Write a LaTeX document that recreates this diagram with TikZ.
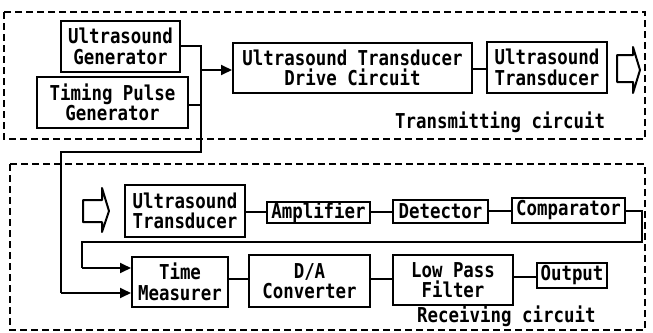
\documentclass[tikz,border=0pt]{standalone}
\usepackage{fontspec}
\newfontfamily\gfont[FakeStretch=0.85]{DejaVu Sans Mono}
\usetikzlibrary{arrows.meta}
\tikzset{
  blk/.style={draw, line width=2pt, inner sep=0pt, align=center,
    font=\gfont\bfseries\fontsize{20.5}{20.5}\selectfont},
  lbl/.style={inner sep=0pt, font=\gfont\bfseries\fontsize{20.5}{20.5}\selectfont},
  conn/.style={line width=1.8pt},
  arr/.style={line width=1.8pt, -{Triangle[length=11pt,width=10pt]}},
  frame/.style={line width=2pt, dash pattern=on 7pt off 4pt},
  hollow/.style={line width=2pt, line join=round}
}
\newcommand{\bx}[6]{% name, x1,y1,x2,y2, text
  \node[blk, minimum width={(#4-#2)*1pt}, minimum height={(#5-#3)*1pt}] (#1) at ({(#2+#4)/2},{(#3+#5)/2}) {#6};}
\begin{document}
\begin{tikzpicture}[x=1pt,y=-1pt]
\useasboundingbox (0,0) rectangle (653,332);
% frames
\draw[frame] (4,12) rectangle (645,139);
\draw[frame] (10,164) rectangle (645,330);
% transmitting nodes
\bx{UG}{61}{21}{180}{72}{Ultrasound\\Generator}
\bx{TPG}{37}{77}{188}{128}{Timing Pulse\\Generator}
\bx{DRV}{233}{43}{472}{93}{Ultrasound Transducer\\Drive Circuit}
\bx{TXT}{487}{42}{607}{93}{Ultrasound\\Transducer}
\node[lbl, anchor=base west] (TL) at (395,128) {Transmitting circuit};
% receiving nodes
\bx{RUT}{125}{185}{245}{237}{Ultrasound\\Transducer}
\bx{AMP}{267}{202}{370}{223}{Amplifier}
\bx{DET}{393}{200}{488}{223}{Detector}
\bx{CMP}{512}{198}{625}{223}{Comparator}
\bx{TM}{132}{257}{228}{307}{Time\\Measurer}
\bx{DA}{249}{255}{370}{307}{D/A\\Converter}
\bx{LPF}{393}{255}{513}{305}{Low Pass\\Filter}
\bx{OUT}{537}{263}{607}{288}{Output}
\node[lbl, anchor=base west] (RL) at (417,322) {Receiving circuit};
% coordinates
\coordinate (j1) at (201,46);
\coordinate (j2) at (201,152);
\coordinate (j3) at (61,152);
\coordinate (j4) at (61,293);
\coordinate (ja) at (201,70);
\coordinate (c1) at (642,211);
\coordinate (c2) at (642,242);
\coordinate (c3) at (82,242);
\coordinate (c4) at (82,268);
% transmitting connectors
\draw[conn] (UG.east |- j1) -- (j1) -- (j2) -- (j3) -- (j4);
\draw[arr] (j4) -- (j4 -| TM.west);
\draw[conn] (TPG.east |- 0,105) -- (201,105);
\draw[arr] (ja) -- (ja -| DRV.west);
\draw[conn] (DRV.east |- 0,69) -- (TXT.west |- 0,69);
% receiving connectors
\draw[conn] (RUT.east |- 0,212) -- (AMP.west |- 0,212);
\draw[conn] (AMP.east |- 0,212) -- (DET.west |- 0,212);
\draw[conn] (DET.east |- 0,211) -- (CMP.west |- 0,211);
\draw[conn] (CMP.east |- c1) -- (c1) -- (c2) -- (c3) -- (c4);
\draw[arr] (c4) -- (c4 -| TM.west);
\draw[conn] (TM.east |- 0,279) -- (DA.west |- 0,279);
\draw[conn] (DA.east |- 0,279) -- (LPF.west |- 0,279);
\draw[conn] (LPF.east |- 0,277) -- (OUT.west |- 0,277);
% hollow arrows
\draw[hollow] (617,55) -- (633,55) -- (633,47) -- (640,70) -- (633,93) -- (633,82) -- (617,82) -- cycle;
\draw[hollow] (83,200) -- (102,200) -- (102,188) -- (109,211) -- (102,232) -- (102,222) -- (83,222) -- cycle;
\end{tikzpicture}
\end{document}
